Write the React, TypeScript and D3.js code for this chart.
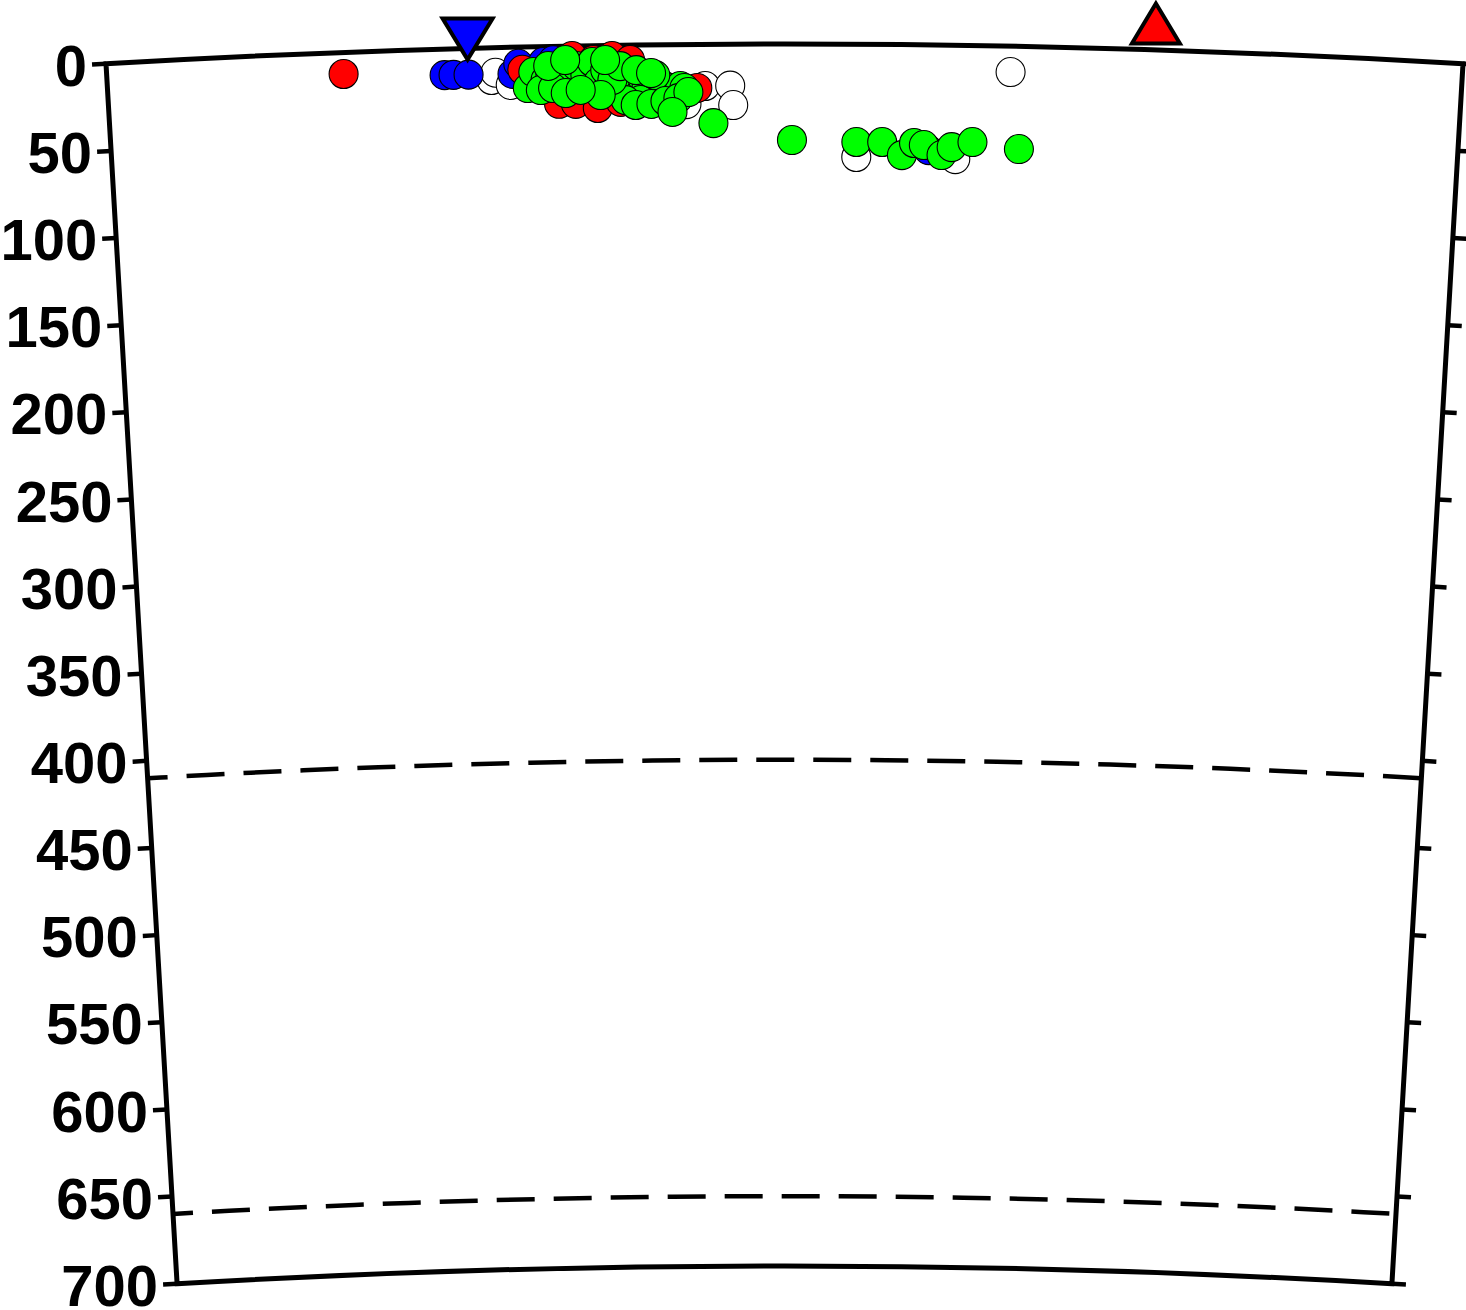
import React from 'react';
import * as d3 from 'd3';

// ---- data ----
const depthTicks = [0, 50, 100, 150, 200, 250, 300, 350, 400, 450, 500, 550, 600, 650, 700];
const discontinuities = [410, 660];
const profileLength = 740; // km along the profile
const maxDepth = 700;

// [distance km, depth km]
const whiteEvents: [number, number][] = [
  [209.9, 18.5], [212.1, 14.4], [220.3, 21.6], [326.6, 23.9], [340.3, 23.8],
  [341.9, 34.9], [316.3, 34.2], [493.5, 14.8], [409.5, 64.6], [464.0, 65.2],
];
const blueEvents: [number, number][] = [
  [184.3, 15.0], [189.2, 15.0], [197.4, 15.1], [221.4, 15.3], [224.7, 9.6],
  [238.3, 8.9], [243.8, 7.9], [449.3, 60.3],
];
const redEvents: [number, number][] = [
  [129.2, 12.4], [226.8, 13.1], [254.1, 5.8], [265.6, 8.3], [246.5, 33.0],
  [255.7, 33.2], [267.7, 35.8], [275.9, 6.1], [285.7, 8.5], [280.3, 32.5],
  [322.3, 25.0], [236.7, 19.0], [269.4, 22.6], [291.2, 28.7],
];
const greenEvents: [number, number][] = [
  [229.6, 23.6], [232.8, 14.5], [239.4, 19.2], [242.1, 15.8], [248.1, 13.7],
  [253.0, 19.5], [256.3, 11.5], [261.2, 16.8], [265.0, 9.4], [268.3, 20.9],
  [272.1, 14.1], [274.8, 24.5], [278.1, 17.6], [281.4, 26.9], [284.6, 15.4],
  [286.8, 22.9], [290.1, 28.7], [292.3, 19.0], [294.5, 24.7], [297.7, 30.5],
  [299.9, 21.4], [302.1, 27.1], [304.3, 23.7], [306.5, 28.9], [308.7, 24.9],
  [310.8, 27.2], [313.0, 23.8], [315.2, 25.0], [291.2, 31.6], [283.0, 31.5],
  [275.9, 19.9], [269.4, 28.4], [299.4, 17.4], [236.7, 24.9], [243.4, 23.9],
  [250.3, 26.9], [258.5, 25.3], [288.5, 34.4], [297.1, 33.9], [304.8, 32.3],
  [311.9, 30.7], [317.4, 27.3], [241.0, 11.2], [250.3, 8.0], [280.3, 12.0],
  [289.0, 14.4], [297.1, 16.2], [272.1, 8.4],
  [308.6, 38.6], [331.0, 45.2],
  [374.1, 55.0], [409.5, 56.0], [423.7, 55.9], [434.6, 63.3], [441.2, 56.3],
  [446.6, 57.4], [456.4, 63.0], [461.9, 58.4], [473.3, 55.3], [498.9, 58.8],
];
// stations: [distance km, plotted height (negative depth) km]
const stationDown: [number, number][] = [[197.4, -5.3]];
const stationUp: [number, number][] = [[572.0, -15.1]];

// ---- geometry ----
const W = 1466;
const H = 1310;
const R0 = 11665;
const cx = 784.5;
const cy = 44 + R0;
const theta = Math.asin(678.5 / R0);

const angle = d3.scaleLinear().domain([0, profileLength]).range([-theta, theta]);
const radius = d3.scaleLinear().domain([0, maxDepth]).range([R0, R0 - 1222]);

function pos(dist: number, depth: number): [number, number] {
  const a = angle(dist);
  const r = radius(depth);
  return [cx + r * Math.sin(a), cy - r * Math.cos(a)];
}

function arcPath(depth: number) {
  const p = d3.path();
  const r = radius(depth);
  const [x0, y0] = pos(0, depth);
  p.moveTo(x0, y0);
  p.arc(cx, cy, r, -Math.PI / 2 - theta, -Math.PI / 2 + theta, false);
  return p;
}

function framePath() {
  const p = d3.path();
  const [x0, y0] = pos(0, 0);
  p.moveTo(x0, y0);
  p.arc(cx, cy, radius(0), -Math.PI / 2 - theta, -Math.PI / 2 + theta, false);
  const [x1, y1] = pos(profileLength, maxDepth);
  p.lineTo(x1, y1);
  p.arc(cx, cy, radius(maxDepth), -Math.PI / 2 + theta, -Math.PI / 2 - theta, true);
  p.closePath();
  return p.toString();
}

const FONT = '"Liberation Sans", Arial, Helvetica, sans-serif';

export default function App() {
  const tickLen = 14;
  const leftDir: [number, number] = [-Math.cos(theta), Math.sin(theta)];
  const rightDir: [number, number] = [Math.cos(theta), Math.sin(theta)];

  const circles = (data: [number, number][], fill: string, key: string) =>
    data.map((d, i) => {
      const [x, y] = pos(d[0], d[1]);
      return <circle key={key + i} cx={x} cy={y} r={14.5} fill={fill} stroke="#000" strokeWidth={1.1} />;
    });

  return (
    <svg width={W} height={H} style={{ position: 'absolute', left: 0, top: 0, background: '#fff' }}>
      <rect x={0} y={0} width={W} height={H} fill="#fff" />
      {discontinuities.map((d) => (
        <path key={d} d={arcPath(d).toString()} fill="none" stroke="#000" strokeWidth={4.5}
          strokeDasharray="38 19" strokeDashoffset={18} />
      ))}
      {depthTicks.map((d) => {
        const [lx, ly] = pos(0, d);
        const [rx, ry] = pos(profileLength, d);
        return (
          <g key={d}>
            <line x1={lx} y1={ly} x2={lx + leftDir[0] * tickLen} y2={ly + leftDir[1] * tickLen} stroke="#000" strokeWidth={4.5} />
            <line x1={rx} y1={ry} x2={rx + rightDir[0] * tickLen} y2={ry + rightDir[1] * tickLen} stroke="#000" strokeWidth={4.5} />
            <text x={lx + leftDir[0] * 19} y={ly + leftDir[1] * 19 + 21} textAnchor="end"
              fontFamily={FONT} fontWeight="bold" fontSize={58} fill="#000">{d}</text>
          </g>
        );
      })}
      <path d={framePath()} fill="none" stroke="#000" strokeWidth={5} strokeLinejoin="miter" />
      {circles(whiteEvents, '#ffffff', 'w')}
      {circles(blueEvents, '#0000ff', 'b')}
      {circles(redEvents, '#ff0000', 'r')}
      {circles(greenEvents, '#00ff00', 'g')}
      {stationDown.map((s, i) => {
        const [x, y] = pos(s[0], s[1]);
        return <path key={'sd' + i} d={`M${x - 25},${y - 20.5}L${x + 25},${y - 20.5}L${x},${y + 20.5}Z`}
          fill="#0000ff" stroke="#000" strokeWidth={4} strokeLinejoin="miter" />;
      })}
      {stationUp.map((s, i) => {
        const [x, y] = pos(s[0], s[1]);
        return <path key={'su' + i} d={`M${x - 24},${y + 20}L${x + 24},${y + 20}L${x},${y - 20}Z`}
          fill="#ff0000" stroke="#000" strokeWidth={4} strokeLinejoin="miter" />;
      })}
    </svg>
  );
}
